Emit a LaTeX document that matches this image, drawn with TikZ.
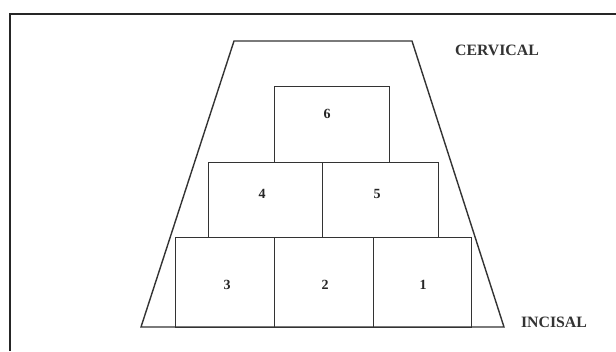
\documentclass[tikz,border=0pt]{standalone}
\usepackage{fontspec}
\setmainfont{Liberation Serif}
\begin{document}
\begin{tikzpicture}[x=1pt,y=-1pt,
  ln/.style={draw=black!80, line width=1.4pt},
  box/.style={ln, rectangle, inner sep=0pt, anchor=north west},
  num/.style={font=\bfseries\fontsize{14}{14}\selectfont, text=black!85, inner sep=0pt},
  lab/.style={font=\bfseries\fontsize{15.8}{16}\selectfont, text=black!80, inner sep=0pt}]
\useasboundingbox (0,0) rectangle (616,351);
\fill[white] (0,0) rectangle (616,351);
% frame (top and left edges)
\draw[black!85, line width=2.6pt] (10,351) -- (10,14) -- (616,14);
% trapezoid outline
\draw[ln, line join=miter] (141,327) -- (234,41) -- (412,41) -- (504,327) -- cycle;
% bottom row
\node[box, minimum width=99pt, minimum height=90.5pt] (b3) at (175,236.5) {};
\node[box, minimum width=98.5pt, minimum height=90.5pt] (b2) at (274,236.5) {};
\node[box, minimum width=98.5pt, minimum height=90.5pt] (b1) at (372.5,236.5) {};
% middle row
\node[box, minimum width=114pt, minimum height=75pt] (b4) at (208,161.5) {};
\node[box, minimum width=116pt, minimum height=75pt] (b5) at (322,161.5) {};
% top box
\node[box, minimum width=115pt, minimum height=76pt] (b6) at (274,85.5) {};
% numbers
\node[num] (n3) at (227,285) {3};
\node[num] (n2) at (325,285) {2};
\node[num] (n1) at (423,285) {1};
\node[num] (n4) at (262,194) {4};
\node[num] (n5) at (377,194) {5};
\node[num] (n6) at (327,114) {6};
% labels
\node[lab] (cerv) at (497,50) {CERVICAL};
\node[lab] (inc) at (554,322) {INCISAL};
\end{tikzpicture}
\end{document}
